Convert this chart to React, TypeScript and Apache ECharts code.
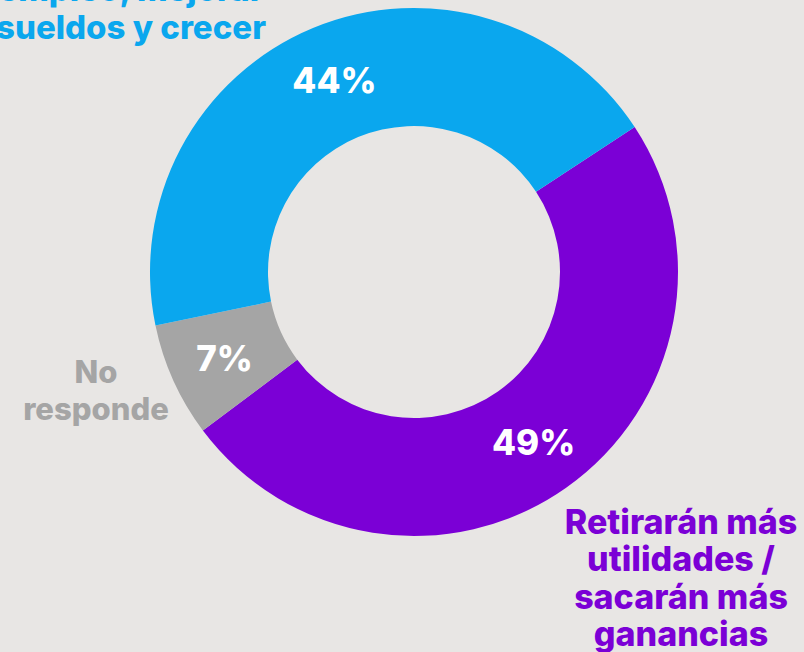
import React, { useEffect, useRef } from "react";
import * as echarts from "echarts";

const categories = [
  "Retirarán más utilidades / sacarán más ganancias",
  "No responde",
  "Invertirán, generarán empleo, mejorar sueldos y crecer",
];
const values = [49, 7, 44];
const colors = ["#7b00d6", "#a5a5a5", "#0aa7ee"];
const purpleLines = ["Retirarán más", "utilidades /", "sacarán más", "ganancias"];
const grayLines = ["No", "responde"];
const blueLines = ["empleo, mejorar", "sueldos y crecer"];

const FONT = "Inter, 'Noto Sans', sans-serif";

export default function App() {
  const ref = useRef<HTMLDivElement>(null);
  useEffect(() => {
    if (!ref.current) return;
    const chart = echarts.init(ref.current, undefined, { renderer: "svg" });
    const textStyle = (fill: string, size: number) => ({
      fill,
      fontSize: size,
      fontWeight: 800,
      fontFamily: FONT,
      align: "center",
      verticalAlign: "middle",
      lineHeight: 37.5,
    });
    chart.setOption({
      animation: false,
      backgroundColor: "#e8e6e4",
      series: [
        {
          type: "pie",
          center: [414, 272],
          radius: [146, 264],
          startAngle: 33.3,
          clockwise: true,
          avoidLabelOverlap: false,
          label: {
            show: true,
            position: "inside",
            formatter: "{c}%",
            color: "#ffffff",
            fontSize: 35,
            fontWeight: 800,
            fontFamily: FONT,
          },
          labelLine: { show: false },
          emphasis: { disabled: true },
          data: categories.map((name, i) => ({
            name,
            value: values[i],
            itemStyle: { color: colors[i] },
          })),
        },
      ],
      graphic: [
        {
          type: "text",
          x: 681,
          y: 577.5,
          style: { ...textStyle(colors[0], 34), text: purpleLines.join("\n") },
        },
        {
          type: "text",
          x: 96,
          y: 390,
          style: { ...textStyle(colors[1], 31), text: grayLines.join("\n") },
        },
        {
          type: "text",
          x: 131,
          y: 8,
          style: { ...textStyle(colors[2], 33), text: blueLines.join("\n") },
        },
      ],
    });
    return () => chart.dispose();
  }, []);
  return (
    <div
      ref={ref}
      style={{ position: "fixed", left: 0, top: 0, width: 804, height: 652 }}
    />
  );
}
